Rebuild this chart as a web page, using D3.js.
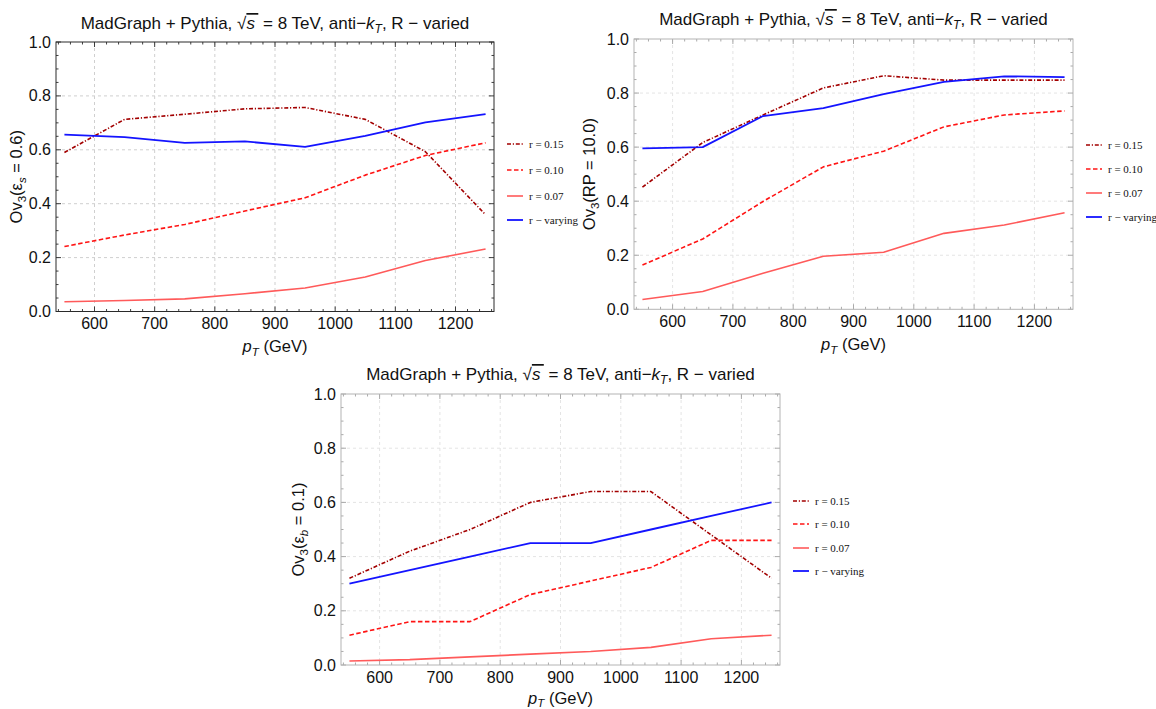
<!DOCTYPE html>
<html><head><meta charset="utf-8">
<script src="https://cdn.jsdelivr.net/npm/d3@7"></script>
<style>body{margin:0;background:#fff} svg{display:block}</style>
</head><body>
<svg id="c" width="1156" height="709"></svg>
<script>
// ---------- data ----------
const ptBins = [550, 650, 750, 850, 950, 1050, 1150, 1250];
const xTicks = [600, 700, 800, 900, 1000, 1100, 1200];
const yTicks = [0.0, 0.2, 0.4, 0.6, 0.8, 1.0];
const seriesNames = ["r = 0.15", "r = 0.10", "r = 0.07", "r \u2212 varying"];

// Ov3(eps_s = 0.6)
const epsS_r015 = [0.590, 0.713, 0.732, 0.752, 0.757, 0.713, 0.593, 0.359];
const epsS_r010 = [0.241, 0.284, 0.323, 0.373, 0.422, 0.506, 0.579, 0.626];
const epsS_r007 = [0.036, 0.041, 0.047, 0.066, 0.087, 0.128, 0.189, 0.232];
const epsS_rvar = [0.656, 0.647, 0.626, 0.631, 0.611, 0.652, 0.702, 0.732];

// Ov3(RP = 10.0)
const rp_r015 = [0.452, 0.617, 0.719, 0.819, 0.864, 0.848, 0.848, 0.848];
const rp_r010 = [0.164, 0.260, 0.399, 0.527, 0.585, 0.675, 0.719, 0.734];
const rp_r007 = [0.036, 0.066, 0.133, 0.196, 0.211, 0.281, 0.312, 0.357];
const rp_rvar = [0.595, 0.600, 0.715, 0.744, 0.796, 0.841, 0.862, 0.859];

// Ov3(eps_b = 0.1)
const epsB_r015 = [0.32, 0.42, 0.50, 0.60, 0.64, 0.64, 0.48, 0.32];
const epsB_r010 = [0.11, 0.16, 0.16, 0.26, 0.31, 0.36, 0.46, 0.46];
const epsB_r007 = [0.015, 0.02, 0.03, 0.04, 0.05, 0.065, 0.097, 0.11];
const epsB_rvar = [0.30, 0.35, 0.40, 0.45, 0.45, 0.50, 0.55, 0.60];

// ---------- styles / layout ----------
const seriesStyle = [
  {color: "#a30000", dash: "4,1.8,1.2,1.8", width: 1.6},
  {color: "#ff1414", dash: "4.5,2.5", width: 1.6},
  {color: "#ff5a5a", dash: null, width: 1.6},
  {color: "#1414ff", dash: null, width: 1.8}
];

const panels = [
  {x0: 56, x1: 494, y0: 42, y1: 311.5, titleY: 29, ylabX: 22, xlabY: 352, legX: 507, legY: [144, 170, 196, 220],
   frame: "#2a2a2a", tick: "#2a2a2a", grid: "#cfcfcf",
   series: [epsS_r015, epsS_r010, epsS_r007, epsS_rvar], ylab: {sym: "\u03b5", sub: "s", rest: " = 0.6)"}},
  {x0: 634, x1: 1073, y0: 39, y1: 309.3, titleY: 25, ylabX: 595, xlabY: 350, legX: 1086, legY: [145, 169, 193, 217],
   frame: "#b4b4b4", tick: "#a0a0a0", grid: "#e4e4e4",
   series: [rp_r015, rp_r010, rp_r007, rp_rvar], ylab: {sym: "RP", sub: null, rest: " = 10.0)"}},
  {x0: 341, x1: 780, y0: 394, y1: 665, titleY: 380, ylabX: 304, xlabY: 703.5, legX: 793, legY: [501, 524, 548, 571],
   frame: "#b4b4b4", tick: "#a0a0a0", grid: "#e4e4e4",
   series: [epsB_r015, epsB_r010, epsB_r007, epsB_rvar], ylab: {sym: "\u03b5", sub: "b", rest: " = 0.1)"}}
];

const svg = d3.select("#c");
const SANS = "'Liberation Sans', Arial, Helvetica, sans-serif";
const SERIF = "'Liberation Serif', 'Times New Roman', serif";

panels.forEach(p => {
  const x = d3.scaleLinear().domain([536, 1264]).range([p.x0, p.x1]);
  const y = d3.scaleLinear().domain([0, 1]).range([p.y1, p.y0]);
  const g = svg.append("g");

  // grid
  g.selectAll(".gx").data(xTicks).enter().append("line")
    .attr("x1", d => x(d)).attr("x2", d => x(d)).attr("y1", p.y0).attr("y2", p.y1)
    .attr("stroke", p.grid).attr("stroke-width", 1).attr("stroke-dasharray", "3,3");
  g.selectAll(".gy").data(yTicks.filter(v => v > 0 && v < 1)).enter().append("line")
    .attr("x1", p.x0).attr("x2", p.x1).attr("y1", d => y(d)).attr("y2", d => y(d))
    .attr("stroke", p.grid).attr("stroke-width", 1).attr("stroke-dasharray", "3,3");

  // minor/major ticks (inward, all four sides)
  const xMinor = d3.range(540, 1261, 20).filter(v => v % 100 !== 0);
  const yMinor = d3.range(0, 1.0001, 0.05).filter(v => Math.abs(v * 5 - Math.round(v * 5)) > 1e-6);
  const tk = [];
  xTicks.forEach(v => { tk.push([x(v), p.y1, x(v), p.y1 - 5]); tk.push([x(v), p.y0, x(v), p.y0 + 5]); });
  xMinor.forEach(v => { tk.push([x(v), p.y1, x(v), p.y1 - 2.5]); tk.push([x(v), p.y0, x(v), p.y0 + 2.5]); });
  yTicks.forEach(v => { tk.push([p.x0, y(v), p.x0 + 5, y(v)]); tk.push([p.x1, y(v), p.x1 - 5, y(v)]); });
  yMinor.forEach(v => { tk.push([p.x0, y(v), p.x0 + 2.5, y(v)]); tk.push([p.x1, y(v), p.x1 - 2.5, y(v)]); });
  g.selectAll(".tk").data(tk).enter().append("line")
    .attr("x1", d => d[0]).attr("y1", d => d[1]).attr("x2", d => d[2]).attr("y2", d => d[3])
    .attr("stroke", p.tick).attr("stroke-width", 0.9);

  // series
  const line = d3.line().x((d, i) => x(ptBins[i])).y(d => y(d));
  p.series.forEach((s, k) => {
    const st = seriesStyle[k];
    g.append("path").datum(s).attr("d", line).attr("fill", "none")
      .attr("stroke", st.color).attr("stroke-width", st.width)
      .attr("stroke-dasharray", st.dash).attr("stroke-linejoin", "round");
  });

  // frame
  g.append("rect").attr("x", p.x0).attr("y", p.y0).attr("width", p.x1 - p.x0).attr("height", p.y1 - p.y0)
    .attr("fill", "none").attr("stroke", p.frame).attr("stroke-width", 1);

  // tick labels
  g.selectAll(".xl").data(xTicks).enter().append("text")
    .attr("x", d => x(d)).attr("y", p.y1 + 17.5).attr("text-anchor", "middle")
    .attr("font-family", SANS).attr("font-size", 16).attr("fill", "#111").text(d => d);
  g.selectAll(".yl").data(yTicks).enter().append("text")
    .attr("x", p.x0 - 5).attr("y", d => y(d) + 5.5).attr("text-anchor", "end")
    .attr("font-family", SANS).attr("font-size", 16).attr("fill", "#111").text(d => d.toFixed(1));

  // title
  const cx = (p.x0 + p.x1) / 2;
  const t = g.append("text").attr("x", cx).attr("y", p.titleY).attr("text-anchor", "middle")
    .attr("font-family", SANS).attr("font-size", 17).attr("fill", "#111");
  t.append("tspan").text("MadGraph + Pythia, \u221a");
  t.append("tspan").attr("font-style", "italic").style("text-decoration", "overline").text("s\u2009");
  t.append("tspan").text(" = 8 TeV, anti\u2212");
  t.append("tspan").attr("font-style", "italic").text("k");
  t.append("tspan").attr("font-style", "italic").attr("font-size", 12).attr("dy", 3.5).text("T");
  t.append("tspan").attr("dy", -3.5).text(", R \u2212 varied");

  // x label
  const xl = g.append("text").attr("x", cx).attr("y", p.xlabY).attr("text-anchor", "middle")
    .attr("font-family", SANS).attr("font-size", 16.5).attr("fill", "#111");
  xl.append("tspan").attr("font-style", "italic").text("p");
  xl.append("tspan").attr("font-style", "italic").attr("font-size", 11.5).attr("dy", 3.5).text("T");
  xl.append("tspan").attr("dy", -3.5).text(" (GeV)");

  // y label
  const cy = (p.y0 + p.y1) / 2;
  const yl = g.append("text").attr("transform", `translate(${p.ylabX},${cy}) rotate(-90)`)
    .attr("text-anchor", "middle").attr("font-family", SANS).attr("font-size", 16.5).attr("fill", "#111");
  yl.append("tspan").text("Ov");
  yl.append("tspan").attr("font-size", 11.5).attr("dy", 3.5).text("3");
  yl.append("tspan").attr("dy", -3.5).text("(" + p.ylab.sym);
  if (p.ylab.sub) {
    yl.append("tspan").attr("font-size", 11.5).attr("font-style", "italic").attr("dy", 3.5).text(p.ylab.sub);
    yl.append("tspan").attr("dy", -3.5).text(p.ylab.rest);
  } else {
    yl.append("tspan").text(p.ylab.rest);
  }

  // legend
  seriesNames.forEach((name, k) => {
    const st = seriesStyle[k];
    const ly = p.legY[k];
    g.append("line").attr("x1", p.legX).attr("x2", p.legX + 16).attr("y1", ly).attr("y2", ly)
      .attr("stroke", st.color).attr("stroke-width", st.width).attr("stroke-dasharray", st.dash);
    g.append("text").attr("x", p.legX + 22).attr("y", ly + 3.5)
      .attr("font-family", SERIF).attr("font-size", 11).attr("fill", "#111").text(name);
  });
});
</script>
</body></html>
